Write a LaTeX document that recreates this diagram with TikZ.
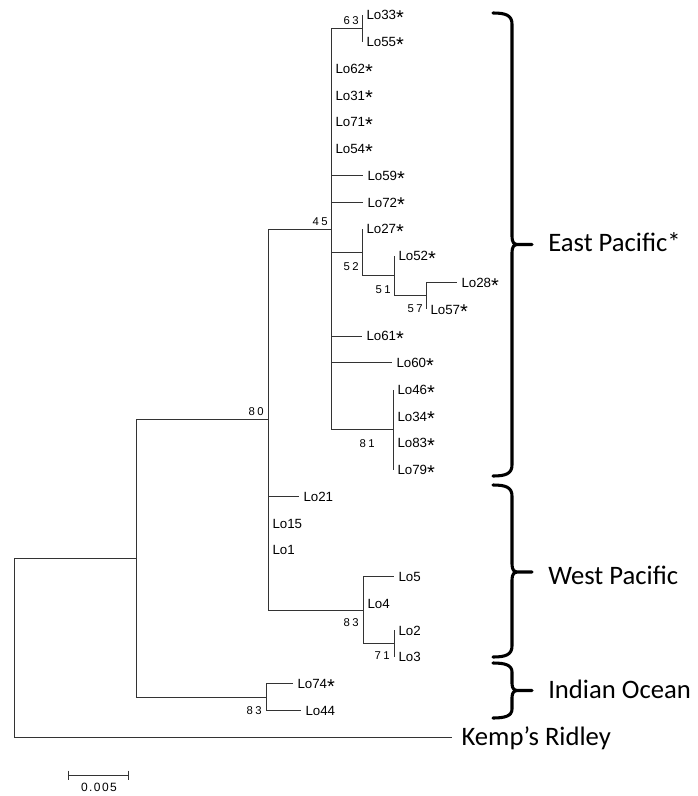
\documentclass[tikz,border=0pt]{standalone}
\usepackage{fontspec}
\setmainfont{Liberation Sans}
\newfontfamily\calfont{Carlito}
\newfontfamily\bootfont[LetterSpace=22]{Liberation Sans}
\newfontfamily\barfont[LetterSpace=12]{Liberation Sans}
\newcommand{\sig}{\raisebox{-3.6pt}{\fontsize{15}{15}\selectfont *}}

\tikzset{
  branch/.style={draw=black!80, line width=0.75pt},
  leaf/.style={anchor=west, inner sep=0pt, xshift=3pt, font=\fontsize{10}{12}\selectfont, text height=7.2pt, text depth=0pt},
  boot/.style={anchor=east, inner sep=0pt, font=\bootfont\fontsize{8.5}{10}\selectfont, text height=6.1pt, text depth=0pt},
  region/.style={anchor=west, inner sep=0pt, font=\calfont\fontsize{20}{24}\selectfont, text height=12.9pt, text depth=0pt},
  regbrace/.style={draw=black, line width=2.3pt, line cap=round, line join=round},
}

\begin{document}
\begin{tikzpicture}[x=0.75pt,y=-0.75pt]
        \useasboundingbox (0,0) rectangle (697,796);

        % inner nodes
        \coordinate (root) at (14,647.8);
        \coordinate (nA) at (136,558.4);
        \coordinate (n80) at (268,419.6);
        \coordinate (nIO) at (266,697.1);
        \coordinate (n45) at (331,229);
        \coordinate (n63) at (362,28.4);
        \coordinate (n52) at (362,252.4);
        \coordinate (n51) at (394,275.8);
        \coordinate (n57) at (426,295.9);
        \coordinate (n81) at (393,429.6);
        \coordinate (n83w) at (363,610.2);
        \coordinate (n71) at (394,643.6);

        % leaf tips
        \coordinate (t33) at (362,15);
        \coordinate (t55) at (362,41.75);
        \coordinate (t62) at (331,68.5);
        \coordinate (t31) at (331,95.25);
        \coordinate (t71) at (331,122);
        \coordinate (t54) at (331,148.75);
        \coordinate (t59) at (363,175.5);
        \coordinate (t72) at (363,202.25);
        \coordinate (t27) at (362,229);
        \coordinate (t52) at (394,255.75);
        \coordinate (t28) at (457,282.5);
        \coordinate (t57) at (426,309.25);
        \coordinate (t61) at (362,336);
        \coordinate (t60) at (392,362.75);
        \coordinate (t46) at (393,389.5);
        \coordinate (t34) at (393,416.25);
        \coordinate (t83) at (393,443);
        \coordinate (t79) at (393,469.75);
        \coordinate (t21) at (299,496.5);
        \coordinate (t15) at (268,523.25);
        \coordinate (t1) at (268,550);
        \coordinate (t5) at (394,576.75);
        \coordinate (t4) at (363,603.5);
        \coordinate (t2) at (394,630.25);
        \coordinate (t3) at (394,657);
        \coordinate (t74) at (293,683.75);
        \coordinate (t44) at (301,710.5);
        \coordinate (tKemp) at (452,737.25);

        % root and outgroup
        \draw[branch] (root) |- (nA);
        \draw[branch] (root) |- (tKemp) node[region, xshift=6.8pt] (kemp) {Kemp’s Ridley};
        \draw[branch] (nA) |- (n80);
        \draw[branch] (nA) |- (nIO);

        % indian ocean
        \draw[branch] (nIO) |- (t74) node[leaf] (lo74) {Lo74\sig};
        \draw[branch] (nIO) |- (t44) node[leaf] (lo44) {Lo44};

        % node 80
        \draw[branch] (n80) |- (n45);
        \draw[branch] (n80) |- (t21) node[leaf] (lo21) {Lo21};
        \draw[branch] (n80) |- (t15) node[leaf] (lo15) {Lo15};
        \draw[branch] (n80) |- (t1) node[leaf] (lo1) {Lo1};
        \draw[branch] (n80) |- (n83w);

        % west pacific
        \draw[branch] (n83w) |- (t5) node[leaf] (lo5) {Lo5};
        \draw[branch] (n83w) |- (t4) node[leaf] (lo4) {Lo4};
        \draw[branch] (n83w) |- (n71);
        \draw[branch] (n71) |- (t2) node[leaf] (lo2) {Lo2};
        \draw[branch] (n71) |- (t3) node[leaf] (lo3) {Lo3};

        % east pacific
        \draw[branch] (n45) |- (n63);
        \draw[branch] (n63) |- (t33) node[leaf] (lo33) {Lo33\sig};
        \draw[branch] (n63) |- (t55) node[leaf] (lo55) {Lo55\sig};
        \draw[branch] (n45) |- (t62) node[leaf] (lo62) {Lo62\sig};
        \draw[branch] (n45) |- (t31) node[leaf] (lo31) {Lo31\sig};
        \draw[branch] (n45) |- (t71) node[leaf] (lo71) {Lo71\sig};
        \draw[branch] (n45) |- (t54) node[leaf] (lo54) {Lo54\sig};
        \draw[branch] (n45) |- (t59) node[leaf] (lo59) {Lo59\sig};
        \draw[branch] (n45) |- (t72) node[leaf] (lo72) {Lo72\sig};
        \draw[branch] (n45) |- (n52);
        \draw[branch] (n52) |- (t27) node[leaf] (lo27) {Lo27\sig};
        \draw[branch] (n52) |- (n51);
        \draw[branch] (n51) |- (t52) node[leaf] (lo52) {Lo52\sig};
        \draw[branch] (n51) |- (n57);
        \draw[branch] (n57) |- (t28) node[leaf] (lo28) {Lo28\sig};
        \draw[branch] (n57) |- (t57) node[leaf] (lo57) {Lo57\sig};
        \draw[branch] (n45) |- (t61) node[leaf] (lo61) {Lo61\sig};
        \draw[branch] (n45) |- (t60) node[leaf] (lo60) {Lo60\sig};
        \draw[branch] (n45) |- (n81);
        \draw[branch] (n81) |- (t46) node[leaf] (lo46) {Lo46\sig};
        \draw[branch] (n81) |- (t34) node[leaf] (lo34) {Lo34\sig};
        \draw[branch] (n81) |- (t83) node[leaf] (lo83) {Lo83\sig};
        \draw[branch] (n81) |- (t79) node[leaf] (lo79) {Lo79\sig};

        % bootstrap values
        \node[boot] (b63) at (359,20) {63};
        \node[boot] (b45) at (328,221) {45};
        \node[boot] (b52) at (359,266) {52};
        \node[boot] (b51) at (391,289) {51};
        \node[boot] (b57) at (423,308) {57};
        \node[boot] (b81) at (375,443) {81};
        \node[boot] (b80) at (264,411) {80};
        \node[boot] (b83w) at (359,622) {83};
        \node[boot] (b71) at (390,655) {71};
        \node[boot] (b83io) at (262,710) {83};

        % braces
        \draw[regbrace] (493,13) .. controls (505,13) and (512,15) .. (512,24) -- (512,236.5)
            .. controls (512,242.5) and (514,244.5) .. (518,244.5) -- (532,244.5)
            (518,244.5) .. controls (514,244.5) and (512,246.5) .. (512,252.5) -- (512,465)
            .. controls (512,474) and (505,476) .. (493,476);
        \draw[regbrace] (493,485) .. controls (505,485) and (512,487) .. (512,496) -- (512,564)
            .. controls (512,570) and (514,572) .. (518,572) -- (532,572)
            (518,572) .. controls (514,572) and (512,574) .. (512,580) -- (512,646)
            .. controls (512,655) and (505,657) .. (493,657);
        \draw[regbrace] (493,663) .. controls (505,663) and (512,665) .. (512,672) -- (512,683.5)
            .. controls (512,688.5) and (514,690.5) .. (518,690.5) -- (532,690.5)
            (518,690.5) .. controls (514,690.5) and (512,692.5) .. (512,697.5) -- (512,709)
            .. controls (512,716) and (505,718) .. (493,718);

        % regions
        \node[region] (east) at (548,243) {East Pacific*};
        \node[region] (west) at (548,576) {West Pacific};
        \node[region] (indian) at (548,690) {Indian Ocean};

        % scale bar
        \coordinate (sbl) at (68,775);
        \coordinate (sbr) at (128,775);
        \draw[branch] (sbl) -- (sbr);
        \draw[branch] (68,770.5) -- (68,779.5);
        \draw[branch] (128,770.5) -- (128,779.5);
        \node[inner sep=0pt, font=\barfont\fontsize{9}{10}\selectfont, text height=6.4pt, text depth=0pt] (sblabel) at (99,787) {0.005};
\end{tikzpicture}
\end{document}
